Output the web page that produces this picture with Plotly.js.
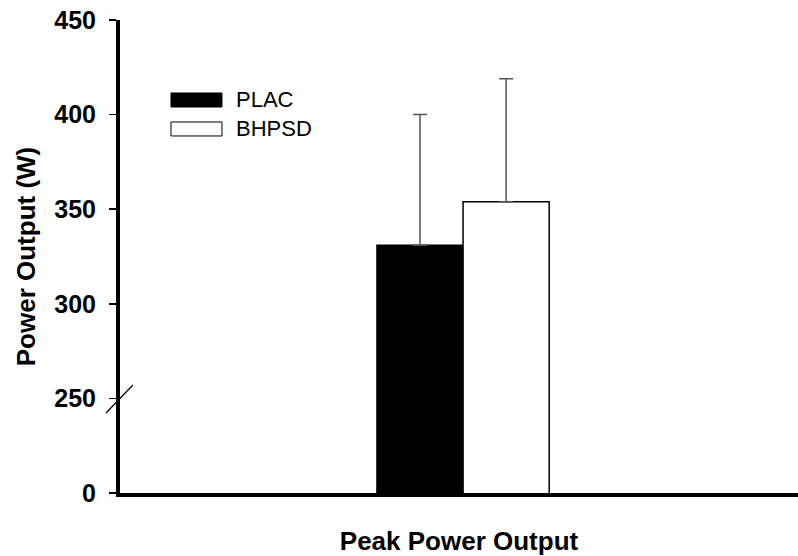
<!DOCTYPE html>
<html>
<head>
<meta charset="utf-8">
<script src="https://cdn.plot.ly/plotly-3.0.1.min.js"></script>
<style>html,body{margin:0;padding:0;background:#fff;}#chart{width:798px;height:556px;}</style>
</head>
<body>
<div id="chart"></div>
<script>
// Data
const categories = ["Peak Power Output"];
const seriesNames = ["PLAC", "BHPSD"];
const placMean = [331];
const placSD = [69];
const bhpsdMean = [354];
const bhpsdSD = [65];
// Broken axis: the "0" label sits where 200 would be on a linear scale
const tickVals = [200, 250, 300, 350, 400, 450];
const tickText = ["0", "250", "300", "350", "400", "450"];

const FONT = "Liberation Sans, Arial, sans-serif";

const traces = [
  {
    type: "bar", name: seriesNames[0], x: categories, y: placMean,
    marker: {color: "#000000", line: {color: "#000000", width: 1.5}},
    error_y: {type: "data", symmetric: false, array: placSD, arrayminus: [0], color: "#555555", thickness: 1.5, width: 7},
    showlegend: false, hoverinfo: "skip"
  },
  {
    type: "bar", name: seriesNames[1], x: categories, y: bhpsdMean,
    marker: {color: "#ffffff", line: {color: "#000000", width: 1.5}},
    error_y: {type: "data", symmetric: false, array: bhpsdSD, arrayminus: [0], color: "#555555", thickness: 1.5, width: 7},
    showlegend: false, hoverinfo: "skip"
  }
];

const layout = {
  width: 798, height: 556,
  margin: {l: 120, r: 0, t: 20, b: 63},
  paper_bgcolor: "#ffffff", plot_bgcolor: "#ffffff",
  font: {family: FONT, color: "#000000"},
  barmode: "group", bargap: 0.746, bargroupgap: 0,
  showlegend: false,
  xaxis: {
    range: [-0.506, 0.494],
    showticklabels: false, ticks: "", showgrid: false, zeroline: false,
    showline: true, linecolor: "#000000", linewidth: 4,
    title: {text: "<b>Peak Power Output</b>", font: {family: FONT, size: 26, color: "#000"}, standoff: 40},
    automargin: false, fixedrange: true
  },
  yaxis: {
    range: [200, 450],
    tickmode: "array", tickvals: tickVals, ticktext: tickText,
    tickfont: {family: FONT, size: 25, color: "#000", weight: "bold"},
    ticks: "outside", ticklen: 7, tickwidth: 1.5, tickcolor: "#000000",
    ticklabelstandoff: 8,
    showgrid: false, zeroline: false,
    showline: true, linecolor: "#000000", linewidth: 4,
    title: {text: "<b>Power Output (W)</b>", font: {family: FONT, size: 26, color: "#000"}, standoff: 12},
    automargin: false, fixedrange: true
  },
  shapes: [
    // axis break mark
    {type: "line", xref: "paper", yref: "paper", x0: -0.0206, y0: 0.1691, x1: 0.019, y1: 0.2283, line: {color: "#000", width: 1.2}},
    // legend boxes
    {type: "rect", xref: "paper", yref: "paper", x0: 0.0752, x1: 0.1504, y0: 0.8161, y1: 0.8457, fillcolor: "#000", line: {color: "#000", width: 1}},
    {type: "rect", xref: "paper", yref: "paper", x0: 0.0752, x1: 0.1504, y0: 0.7548, y1: 0.7844, fillcolor: "#fff", line: {color: "#000", width: 1}}
  ],
  annotations: [
    {xref: "paper", yref: "paper", x: 0.1681, y: 0.8309, xanchor: "left", yanchor: "middle", text: seriesNames[0], showarrow: false, font: {family: FONT, size: 22, color: "#000"}},
    {xref: "paper", yref: "paper", x: 0.1681, y: 0.7696, xanchor: "left", yanchor: "middle", text: seriesNames[1], showarrow: false, font: {family: FONT, size: 22, color: "#000"}}
  ]
};

Plotly.newPlot("chart", traces, layout, {displayModeBar: false, staticPlot: true});
</script>
</body>
</html>
